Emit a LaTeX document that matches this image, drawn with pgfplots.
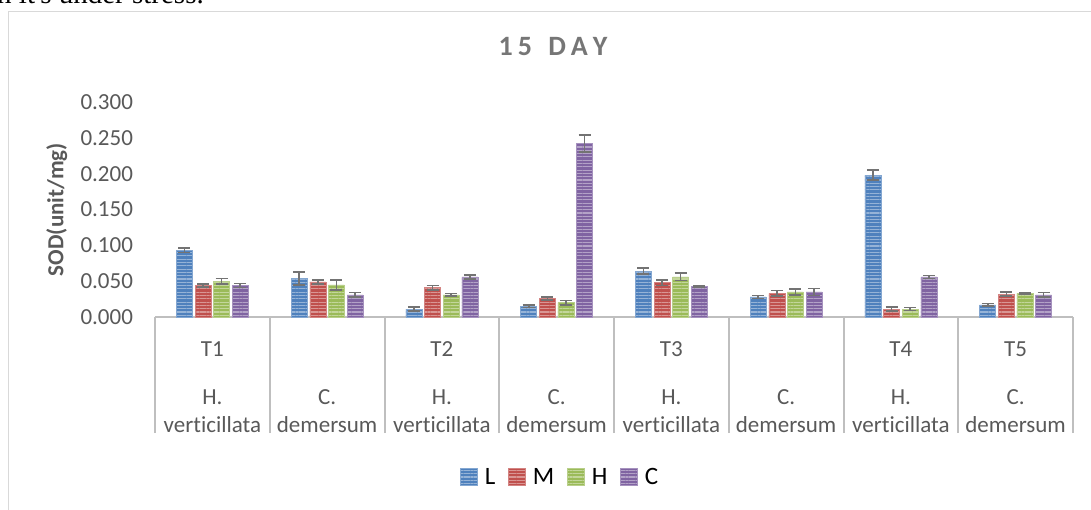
\documentclass[border=0pt]{standalone}
\usepackage{pgfplots}
\pgfplotsset{compat=1.18}
\usepackage{pgfplotstable}
\usepackage{fontspec}
\setmainfont{Carlito}[Ligatures={NoCommon}]
\newfontfamily\timesfont{Liberation Serif}
\usetikzlibrary{patterns.meta}
\definecolor{cL}{RGB}{79,129,189}
\definecolor{cM}{RGB}{192,80,77}
\definecolor{cH}{RGB}{155,187,89}
\definecolor{cC}{RGB}{128,100,162}
\definecolor{axc}{RGB}{191,191,191}
\definecolor{txt}{RGB}{89,89,89}
\definecolor{ttl}{RGB}{118,118,118}
\definecolor{errc}{RGB}{115,115,115}
\definecolor{brd}{RGB}{217,217,217}

\pgfplotstableread{
x y e
0 0.093 0.003
1 0.054 0.009
2 0.011 0.003
3 0.015 0.002
4 0.064 0.004
5 0.028 0.002
6 0.198 0.007
7 0.017 0.002
}\tL
\pgfplotstableread{
x y e
0 0.044 0.002
1 0.049 0.003
2 0.041 0.003
3 0.026 0.002
4 0.048 0.004
5 0.033 0.004
6 0.011 0.003
7 0.032 0.003
}\tM
\pgfplotstableread{
x y e
0 0.050 0.004
1 0.045 0.007
2 0.031 0.002
3 0.020 0.003
4 0.056 0.005
5 0.035 0.004
6 0.011 0.002
7 0.033 0.001
}\tH
\pgfplotstableread{
x y e
0 0.044 0.003
1 0.031 0.003
2 0.056 0.003
3 0.242 0.012
4 0.043 0.001
5 0.035 0.005
6 0.056 0.002
7 0.031 0.003
}\tC

\pgfplotsset{
  bstyle/.style={fill=#1, draw=#1!70!white, line width=0.5pt,
    postaction={pattern={Lines[angle=0,distance=3.3pt,line width=1.1pt]}, pattern color=white!40!#1}},
  eb/.style={error bars/.cd, y dir=both, y explicit,
    error bar style={line width=1.6pt, color=errc},
    error mark options={rotate=90, mark size=6pt, line width=1.6pt, color=errc}}
}

\newcommand{\fnt}{\fontsize{23}{28}\selectfont}

\begin{document}
\begin{tikzpicture}
\useasboundingbox (0,0) rectangle (1091pt,-510pt);
\draw[brd, line width=1pt] (8.5pt,-530pt) -- (8.5pt,-11.5pt) -- (1110pt,-11.5pt);
\node[anchor=base west, inner sep=0pt, font=\timesfont\fontsize{29}{30}\selectfont] at (-3pt,-3.5pt) {n it's under stress.};
\begin{axis}[
  at={(155pt,-317pt)}, anchor=south west,
  scale only axis, width=918pt, height=215pt,
  ybar=2.6pt, bar width=16pt,
  xmin=-0.5, xmax=7.5, ymin=0, ymax=0.3,
  ytick={0,0.05,0.1,0.15,0.2,0.25,0.3},
  scaled y ticks=false,
  yticklabel style={font=\fnt, color=txt, xshift=-18.5pt, /pgf/number format/.cd, fixed, fixed zerofill, precision=3, assume math mode=true},
  axis lines*=left,
  y axis line style={draw=none},
  x axis line style={line width=2pt, color=axc},
  ytick style={draw=none},
  xtick style={draw=none},
  xtick={0,1,2,3,4,5,6,7},
  xticklabels={{\strut T1\\[20pt]H.\\verticillata},{\strut\\[20pt]C.\\demersum},
    {\strut T2\\[20pt]H.\\verticillata},{\strut\\[20pt]C.\\demersum},
    {\strut T3\\[20pt]H.\\verticillata},{\strut\\[20pt]C.\\demersum},
    {\strut T4\\[20pt]H.\\verticillata},{\strut T5\\[20pt]C.\\demersum}},
  xticklabel style={font=\fnt, color=txt, align=center, anchor=north, yshift=-12pt},
  extra x ticks={-0.5,0.5,1.5,2.5,3.5,4.5,5.5,6.5,7.5},
  extra x tick labels={},
  extra x tick style={xtick style={draw=axc, line width=2pt}, major tick length=116pt, tick align=outside},
  ylabel={SOD(unit/mg)},
  ylabel style={font=\fnt\bfseries, color=txt, at={(axis description cs:-0.107,0.5)}, anchor=center},
  title={1\kern5pt 5\kern5pt\ \kern5pt D\kern5pt A\kern5pt Y},
  title style={font=\fontsize{28}{30}\selectfont\bfseries, color=ttl, at={(axis description cs:0.4336,1.228)}, anchor=center},
  legend style={at={(axis description cs:0.4415,-0.744)}, anchor=center, legend columns=4, draw=none, fill=none, font=\fontsize{25}{28}\selectfont, text=black,
    /tikz/every odd column/.append style={column sep=5pt},
    /tikz/every even column/.append style={column sep=11pt}},
  legend image code/.code={\draw[#1, draw=none] (0pt,-8.5pt) rectangle (17pt,8.5pt);},
]
\addplot[bstyle=cL, eb] table[x=x, y=y, y error=e]{\tL};
\addplot[bstyle=cM, eb] table[x=x, y=y, y error=e]{\tM};
\addplot[bstyle=cH, eb] table[x=x, y=y, y error=e]{\tH};
\addplot[bstyle=cC, eb] table[x=x, y=y, y error=e]{\tC};
\legend{L,M,H,C}
\end{axis}
\end{tikzpicture}
\end{document}
